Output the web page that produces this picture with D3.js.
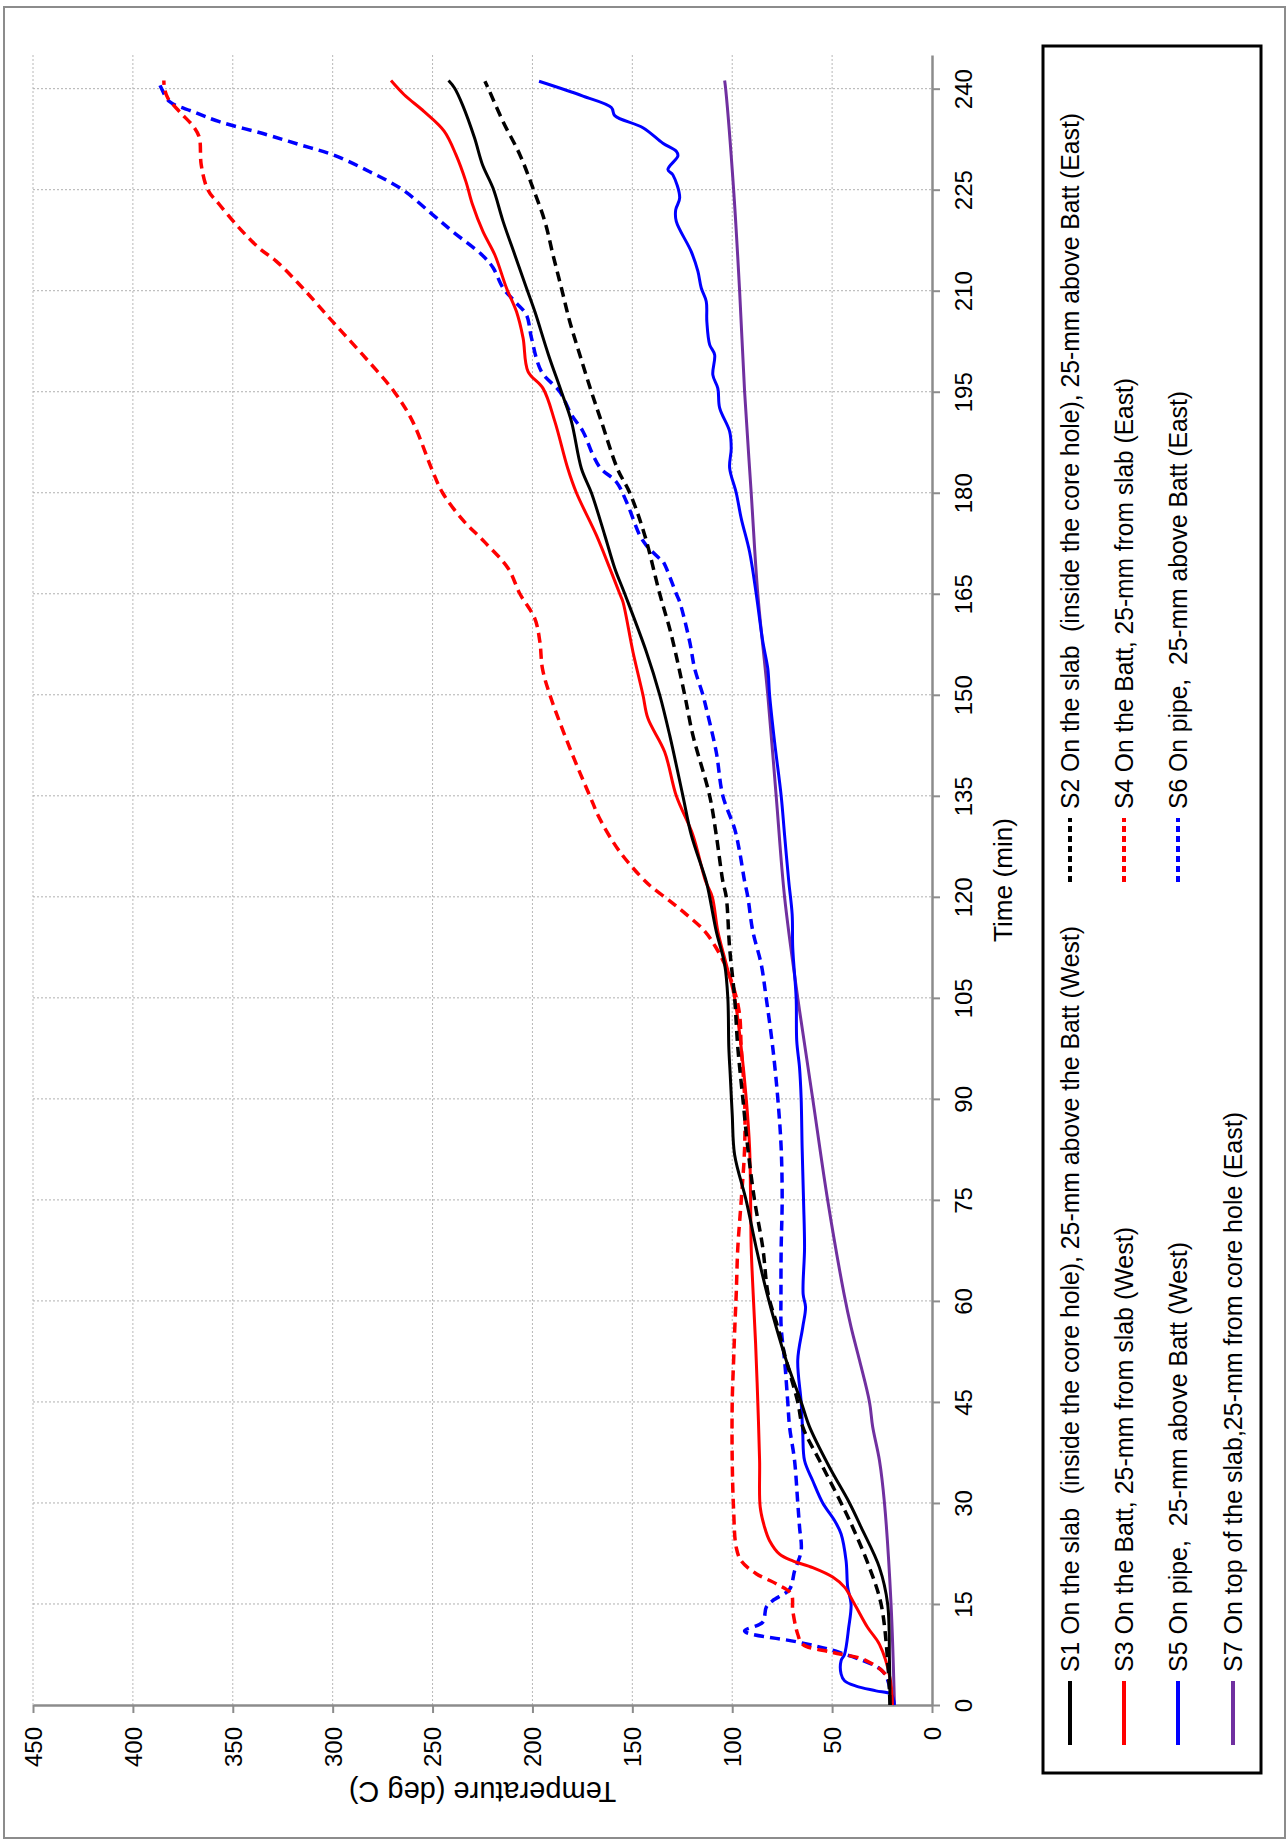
<!DOCTYPE html>
<html>
<head>
<meta charset="utf-8">
<script src="https://cdn.jsdelivr.net/npm/d3@7"></script>
<style>
  body { margin: 0; background: #fff; }
  text { font-family: "Liberation Sans", Arial, sans-serif; white-space: pre; }
</style>
</head>
<body>
<div id="chart"></div>
<script>
// chart is drawn "landscape turned on its side": time runs bottom -> top, temperature right -> left
let W = 1287, H = 1843;
let plotLeft = 33, plotRight = 932, plotTop = 55, plotBottom = 1705;

// [time (min), temperature (deg C)]
const s1 = [[0,21],[6.6,21.3],[15,22.2],[20.4,26.3],[26.4,35.5],[30,41.3],[35.3,51.3],[41.3,61.3],[45,65.5],[51.2,73],[56.1,78],[61,82.5],[67.9,88],[74.9,93],[81.7,98.8],[87.7,100],[93.6,101],[97.6,101.7],[105,102.2],[110,103.8],[114.9,108],[120,111.3],[122.3,113],[129.2,120.5],[135,124.7],[144,131.3],[150,136.3],[156.4,143],[165,153.8],[168.8,158.8],[173.7,163.8],[180,170.5],[183.6,175.5],[190.6,180.5],[195,185.5],[200.5,192],[206.9,198.8],[210.4,203],[215.3,208.8],[220.3,214.7],[225.2,219.7],[228.7,225],[232.7,229],[237.6,235],[240.1,239],[241.2,242]];
const s2 = [[0,21],[6.6,22.2],[15,25.5],[20.4,31.3],[26.4,39.7],[30,45.5],[36.3,56.3],[41.3,64.7],[45,67.2],[51.2,73],[56.1,77.2],[61,82],[67.9,84.7],[74.9,88.8],[82.7,92.2],[90.1,94.7],[97.6,97.2],[105,98.8],[112.4,101.3],[120,103],[122.3,104.7],[129.2,108],[135,111.3],[144,119.7],[150,123.8],[158.9,130.5],[165,136.3],[173.7,143.8],[180,151.3],[183.6,157.5],[190.6,165.5],[195,170.5],[200.5,176.3],[205.4,181.3],[210.4,185.5],[215.3,189.7],[220.3,193.8],[225.2,199.7],[230.2,206.3],[235.1,214.7],[240.1,222.2],[241.1,223.8]];
const s3 = [[0,20],[4,21],[9,26.3],[11.5,32.2],[15,38.8],[17.5,43.8],[19,49.7],[20.4,59.7],[21.4,69.7],[22.4,76.3],[24.4,81.3],[26.4,83.8],[29.4,86],[36.3,86.3],[45,87.2],[53.7,88.3],[61,89.5],[67.9,90.5],[74.9,90.8],[82.7,91.3],[90.1,93],[97.6,95.5],[105,98.8],[110,103],[114.9,107.2],[120,110],[122.3,113.3],[129.2,119.7],[135,128],[141.5,133.8],[146.5,142.2],[150,144.7],[156.4,149.7],[163.8,154.7],[165,156.3],[168.8,161.3],[173.7,168],[180,178],[183.6,182.3],[190.6,188.8],[195.5,194.7],[198,202.2],[203,204.7],[206.9,208],[210.4,213],[215.3,218.8],[218.8,224.8],[222.8,230],[226.2,233.3],[230.2,238.3],[233.7,244.2],[236.6,254.2],[239.1,264.2],[241.2,270.8]];
const s4 = [[0,20],[4.1,22.2],[6.6,33],[7.8,49.7],[9,64.7],[10.5,67.2],[14,69.7],[16.5,70.5],[18,78],[19.5,88],[21.4,95.5],[23.4,98],[28.9,99.3],[36.3,100],[45,100],[51.2,99.3],[56.1,98.7],[61,98],[67.9,97.2],[74.9,95.5],[82.7,93.8],[90.1,93.8],[97.6,95.5],[102.5,96.3],[106,98.8],[109.5,103],[112.4,108],[114.9,113.8],[117.4,123],[119.4,131.3],[121.3,139.7],[122.3,143.5],[126.7,156.3],[131.6,166.3],[135,171.3],[141.5,180.5],[150,191.3],[153.9,195],[157.9,196.3],[161.3,198.8],[165,206.3],[168.8,212.2],[172.7,224],[176,235],[180,245],[183.6,250.5],[190.6,260],[195,269.2],[200.5,285],[205.4,300],[210.4,315],[214.4,328.3],[216.3,336.7],[219.3,346.7],[222.8,356.7],[225,362.5],[228.7,365.8],[232.7,366.7],[234.2,369.2],[236.6,376.7],[238.6,382.5],[240.1,384.2],[241.2,384.5]];
const s5 = [[0,18.8],[1.6,20.5],[2.1,28],[2.8,38],[3.6,43.8],[4.6,45.5],[6.6,45.5],[7.5,43.8],[11.5,41.7],[15,40.5],[17.5,42.2],[21.4,43],[25.4,45.5],[27.4,48.8],[30,54.7],[33.3,59.7],[36.3,63.8],[40.3,64.7],[45,65.5],[51.2,67.2],[56.1,64.7],[59.1,63.3],[61,64.5],[67.9,63.8],[74.9,64.3],[82.7,65],[90.1,65.5],[94.6,66.3],[98.6,67.7],[105,68],[112.4,69.7],[117.4,70],[122.3,71.7],[129.2,73.8],[135,75.5],[143,78.8],[150,81.3],[153.9,82.2],[157.9,84.7],[165,88],[171.2,91.3],[176.2,95.5],[180,98],[183.7,101.3],[186.6,100.5],[189.1,101.3],[192.6,106.3],[195.5,107.2],[197.5,109.7],[200.5,108.8],[202,111.3],[205.4,112.7],[208.4,113],[210.4,115.5],[212.9,117.2],[215.8,120.5],[220.3,128],[222,128.3],[223.8,126.3],[227.2,129.7],[228,132.2],[230,127.2],[230.7,128],[231.9,134.7],[234.2,144.7],[236,158.8],[237.2,160.5],[238.9,174.7],[241.1,196.7]];
const s6 = [[0,20.5],[3,21.5],[5.1,25],[7.8,46.3],[9.3,66.3],[11,93.8],[12.3,84.7],[14.5,83],[15.5,79.7],[17.2,71.3],[19.9,68.8],[22.9,65.5],[26.4,66.3],[30,67.2],[36.3,68.8],[41.3,71.3],[45,72.2],[51.2,73.8],[56.1,75.5],[61,75.6],[67.9,75.5],[74.9,75],[82.7,75.5],[90.1,77.2],[97.6,79.7],[105,83],[110,85.5],[114.9,89.7],[120,92.2],[122.3,93.8],[126.7,96.3],[130.1,98.8],[135,104.7],[141.5,108],[148,113],[150,114.7],[153.9,118.8],[157.9,121.3],[163.8,126.3],[165,128],[169.8,134.7],[170.2,136.3],[172.2,143],[173.7,146.3],[178.7,153],[181.6,158],[183.6,165.8],[185.6,169.7],[189.1,174.7],[191.6,180.5],[195,186.3],[198,195.5],[203,200.5],[206.4,203],[208.4,208.8],[210.4,214.7],[213.4,219.7],[215.3,225.2],[218.8,240],[221.3,250],[225,265],[227.7,281.7],[230.2,300],[231.7,316.7],[233.2,333.3],[235.1,356.7],[236.6,370],[238.1,381.7],[240.1,385.8],[240.7,386.7]];
const s7 = [[0,18.8],[15,20.5],[30,23.8],[36.3,26.3],[41.3,29.7],[45,31.3],[51.2,36.3],[56.1,40.5],[61,44],[74.9,52.2],[90,59.7],[105,67.2],[120,73.8],[135,78],[150,82.2],[165,87.2],[180,90.5],[195,93.8],[210,96.3],[225,99.3],[240,103.3],[241.2,103.8]];

const seriesNames = [
  "S1 On the slab  (inside the core hole), 25-mm above the Batt (West)",
  "S2 On the slab  (inside the core hole), 25-mm above Batt (East)",
  "S3 On the Batt, 25-mm from slab (West)",
  "S4 On the Batt, 25-mm from slab (East)",
  "S5 On pipe,  25-mm above Batt (West)",
  "S6 On pipe,  25-mm above Batt (East)",
  "S7 On top of the slab,25-mm from core hole (East)"
];
const timeTicks = [0,15,30,45,60,75,90,105,120,135,150,165,180,195,210,225,240];
const tempTicks = [0,50,100,150,200,250,300,350,400,450];

// styling, per series
const colors = ["#000000","#000000","#ff0000","#ff0000","#0000ff","#0000ff","#7030a0"];
const dashed = [false,true,false,true,false,true,false];
// legend: row x, which column, text length
const legRowX = [1070,1070,1124,1124,1178,1178,1233];
const legCol = [0,1,0,1,0,1,0];
const legTextLen = [746,696,445,431,430,418,560];

let allSeries = [s1,s2,s3,s4,s5,s6,s7];

let svg = d3.select("#chart").append("svg")
  .attr("width", W).attr("height", H)
  .style("display","block");

svg.append("rect").attr("x",0).attr("y",0).attr("width",W).attr("height",H).attr("fill","#fff");
// outer frame
svg.append("rect")
  .attr("x",4).attr("y",7).attr("width",1281).attr("height",1831)
  .attr("fill","none").attr("stroke","#8c8c8c").attr("stroke-width",2);

let tempScale = d3.scaleLinear().domain([0,450]).range([plotRight, plotLeft]);
let timeScale = d3.scaleLinear().domain([0,245]).range([plotBottom, plotTop]);

// grid
let grid = svg.append("g");
grid.selectAll(".vg").data(tempTicks.filter(d => d > 0)).enter().append("line")
  .attr("x1", d => tempScale(d)).attr("x2", d => tempScale(d))
  .attr("y1", plotTop).attr("y2", plotBottom)
  .attr("stroke","#b8b8b8").attr("stroke-width",1).attr("stroke-dasharray","2,2");
grid.selectAll(".hg").data(timeTicks.filter(d => d > 0)).enter().append("line")
  .attr("x1", plotLeft).attr("x2", plotRight)
  .attr("y1", d => timeScale(d)).attr("y2", d => timeScale(d))
  .attr("stroke","#b0b0b0").attr("stroke-width",1).attr("stroke-dasharray","2,2");

// axes
let timeAxis = svg.append("g")
  .attr("transform", `translate(${plotRight},0)`)
  .call(d3.axisRight(timeScale).tickValues(timeTicks).tickSize(8).tickSizeOuter(0));
let tempAxis = svg.append("g")
  .attr("transform", `translate(0,${plotBottom})`)
  .call(d3.axisBottom(tempScale).tickValues(tempTicks).tickSize(8).tickSizeOuter(0));

[timeAxis, tempAxis].forEach(a => {
  a.select(".domain").attr("stroke","#8c8c8c").attr("stroke-width",2.5);
  a.selectAll(".tick line").attr("stroke","#8c8c8c").attr("stroke-width",2);
  a.selectAll("text").attr("fill","#000").style("font-size","24px")
    .style("font-family","'Liberation Sans', Arial, sans-serif");
});
timeAxis.selectAll("text")
  .attr("x",0).attr("y",0).attr("dy",null)
  .attr("text-anchor","middle")
  .attr("transform","translate(40,0) rotate(-90)");
tempAxis.selectAll("text")
  .attr("x",0).attr("y",0).attr("dy","0.35em")
  .attr("text-anchor","end")
  .attr("transform","translate(0,22) rotate(-90)");

// axis titles
svg.append("text")
  .attr("transform", `translate(1012,${(plotTop+plotBottom)/2}) rotate(-90)`)
  .attr("text-anchor","middle").style("font-size","25px")
  .attr("textLength",124).attr("lengthAdjust","spacingAndGlyphs")
  .text("Time (min)");
svg.append("text")
  .attr("transform", `translate(${(plotLeft+plotRight)/2},1782) rotate(180)`)
  .attr("text-anchor","middle").style("font-size","29px")
  .text("Temperature (deg C)");

// series
let line = d3.line()
  .x(d => tempScale(d[1]))
  .y(d => timeScale(d[0]))
  .curve(d3.curveCatmullRom.alpha(0.5));

let order = [6,4,5,3,2,1,0];
order.forEach(i => {
  svg.append("path")
    .datum(allSeries[i])
    .attr("d", line)
    .attr("fill","none")
    .attr("stroke", colors[i])
    .attr("stroke-width", dashed[i] ? 3.5 : 3)
    .attr("stroke-dasharray", dashed[i] ? "10,6" : null)
    .attr("stroke-linejoin","round");
});

// legend
let leg = svg.append("g");
leg.append("rect")
  .attr("x",1043).attr("y",46).attr("width",218).attr("height",1727)
  .attr("fill","#fff").attr("stroke","#000").attr("stroke-width",3);

seriesNames.forEach((name, i) => {
  let x = legRowX[i];
  let y0 = legCol[i] === 0 ? 1745 : 882;
  leg.append("line")
    .attr("x1", x).attr("x2", x)
    .attr("y1", y0).attr("y2", y0 - 64)
    .attr("stroke", colors[i]).attr("stroke-width", 4)
    .attr("stroke-dasharray", dashed[i] ? "6,4" : null);
  leg.append("text")
    .attr("transform", `translate(${x},${y0 - 73}) rotate(-90)`)
    .attr("dy","0.35em")
    .style("font-size","25px")
    .attr("textLength", legTextLen[i]).attr("lengthAdjust","spacingAndGlyphs")
    .text(name);
});
</script>
</body>
</html>
